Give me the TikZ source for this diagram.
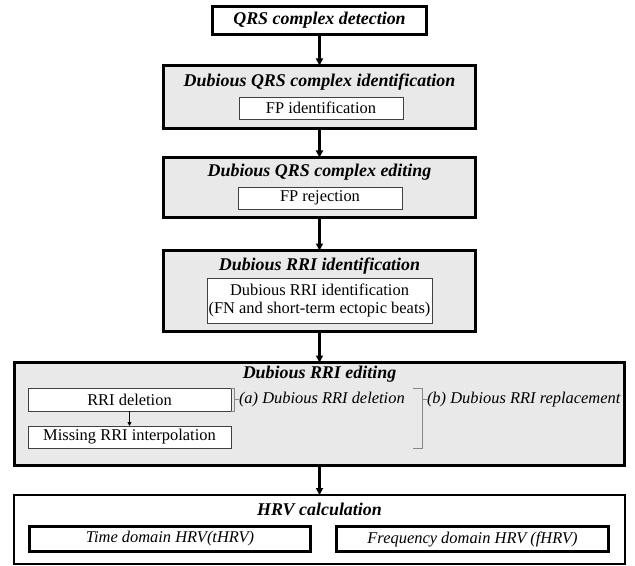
\documentclass[tikz,border=0pt]{standalone}
\usepackage{fontspec}
\setmainfont{Liberation Serif}
\usetikzlibrary{arrows.meta,positioning}
\definecolor{boxgray}{RGB}{233,233,233}
\definecolor{brkgray}{RGB}{135,135,135}

\begin{document}
\begin{tikzpicture}[x=1bp, y=-1bp,
    every node/.style={font=\fontsize{16.5}{18}\selectfont, inner sep=0pt, outer sep=0pt},
    stage/.style={draw, line width=3bp, fill=boxgray, minimum width=312bp},
    stagetitle/.style={font=\fontsize{18}{20}\selectfont\bfseries\itshape},
    substep/.style={draw=black!75, line width=0.8bp, fill=white, align=center},
    hrvbox/.style={draw, line width=3bp, fill=white, minimum height=25bp, font=\fontsize{16.5}{18}\selectfont\itshape},
    flow/.style={line width=2.4bp, -{Triangle[length=7bp,width=7bp]}},
    brk/.style={brkgray, line width=0.7bp}]
    \useasboundingbox (0,0) rectangle (635,566);
    % detection
    \node[draw, line width=3bp, fill=white, stagetitle, minimum width=214bp, minimum height=28bp] (detect) at (319.5,20.5) {QRS complex detection};
    % dubious QRS complex identification
    \node[stage, minimum height=63bp] (qrsid) at (319.5,97) {};
    \node[stagetitle] (qrsidtitle) at (319.5,82) {Dubious QRS complex identification};
    \node[substep, minimum width=164bp, minimum height=22bp] (fpid) at (321,108) {FP identification};
    % dubious QRS complex editing
    \node[stage, minimum height=60bp] (qrsedit) at (319.5,187.5) {};
    \node[stagetitle] (qrsedittitle) at (319.5,172) {Dubious QRS complex editing};
    \node[substep, minimum width=164bp, minimum height=22bp] (fprej) at (320,198) {FP rejection};
    % dubious RRI identification
    \node[stage, minimum height=81bp] (rriid) at (319.5,291) {};
    \node[stagetitle] (rriidtitle) at (319.5,266) {Dubious RRI identification};
    \node[substep, minimum width=225bp, minimum height=45bp] (rrifind) at (319.5,300.5)
        {Dubious RRI identification\\(FN and short-term ectopic beats)};
    % dubious RRI editing
    \node[stage, minimum width=610bp, minimum height=103bp] (rriedit) at (319.5,414) {};
    \node[stagetitle] (rriedittitle) at (319.5,374) {Dubious RRI editing};
    \node[substep, minimum width=203bp, minimum height=23bp] (rridel) at (129.5,399.5) {RRI deletion};
    \node[substep, minimum width=203bp, minimum height=22bp] (rriint) at (129.5,437) {Missing RRI interpolation};
    \node[anchor=west, font=\fontsize{16.5}{18}\selectfont\itshape] (dela) at (239,399.5) {(a) Dubious RRI deletion};
    \node[anchor=west, font=\fontsize{16.5}{18}\selectfont\itshape] (repb) at (427,399.5) {(b) Dubious RRI replacement};
    \coordinate (bt) at (413,388);
    \coordinate (bb) at (413,448);
    \draw[brk] (rridel.north east) -- ++(3,0) |- (rridel.south east);
    \draw[brk] ([xshift=3bp]rridel.east) -- (dela.west);
    \draw[brk] (bt) -- ++(9,0) |- (bb);
    \draw[brk] (bt -| repb.west) ++(-5,0) coordinate (bm) (bm |- repb.west) -- (repb.west);
    % HRV calculation
    \node[draw, line width=2bp, fill=white, minimum width=611bp, minimum height=69bp] (hrv) at (319.5,529.5) {};
    \node[stagetitle] (hrvtitle) at (319.5,509) {HRV calculation};
    \node[hrvbox, minimum width=281bp] (tdom) at (170,539) {Time domain HRV(tHRV)};
    \node[hrvbox, minimum width=272bp] (fdom) at (472.5,539) {Frequency domain HRV (fHRV)};
    % arrows
    \draw[flow] (detect) -- (qrsid);
    \draw[flow] (qrsid) -- (qrsedit);
    \draw[flow] (qrsedit) -- (rriid);
    \draw[flow] (rriid) -- (rriedit);
    \draw[flow] (rriedit) -- (hrv);
    \draw[line width=0.8bp, -{Triangle[length=4bp,width=4bp]}] (rridel) -- (rriint);
\end{tikzpicture}
\end{document}
